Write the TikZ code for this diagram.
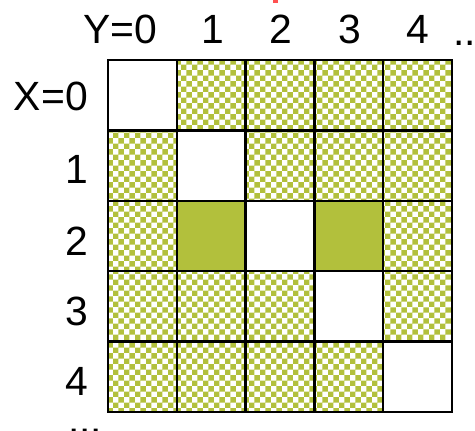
\documentclass[tikz,border=0pt]{standalone}
\usepackage{fontspec}
\setmainfont{Liberation Sans}
\usetikzlibrary{patterns}
\definecolor{olivegreen}{HTML}{B2C03C}
\definecolor{markred}{HTML}{FF5050}
\tikzset{
  cellbox/.style={draw=black, line width=2.5bp, minimum width=68.8bp, minimum height=70.4bp, inner sep=0pt, outer sep=0pt, anchor=north west},
  hatched/.style={cellbox, pattern=checkerboard, pattern color=olivegreen},
  solidcell/.style={cellbox, fill=olivegreen},
  emptycell/.style={cellbox, fill=white},
  lbl/.style={font=\fontsize{41}{48}\selectfont, inner sep=0pt}
}
\begin{document}
\begin{tikzpicture}[x=1bp, y=-1bp]
\useasboundingbox (0,0) rectangle (475,430);
\begin{scope}
\clip (0,0) rectangle (475,430);
% cells
\foreach \i in {0,...,4}{
  \foreach \j in {0,...,4}{
    \pgfmathsetmacro{\xx}{108+68.8*\j}
    \pgfmathsetmacro{\yy}{60+70.4*\i}
    \ifnum\i=\j
      \node[emptycell] (c-\i-\j) at (\xx,\yy) {};
    \else
      \ifnum\i=2
        \ifodd\j
          \node[solidcell] (c-\i-\j) at (\xx,\yy) {};
        \else
          \node[hatched] (c-\i-\j) at (\xx,\yy) {};
        \fi
      \else
        \node[hatched] (c-\i-\j) at (\xx,\yy) {};
      \fi
    \fi
  }
}
% column labels
\node[lbl, anchor=base] (ylab0) at (120,43) {Y=0};
\node[lbl, anchor=base] (ylab1) at (213,43) {1};
\node[lbl, anchor=base] (ylab2) at (281,43) {2};
\node[lbl, anchor=base] (ylab3) at (349.5,43) {3};
\node[lbl, anchor=base] (ylab4) at (418,43) {4};
\node[lbl, anchor=base west] (ydots) at (453,45) {...};
% row labels
\node[lbl, anchor=base east] (xlab0) at (88,110) {X=0};
\node[lbl, anchor=base east] (xlab1) at (88,183) {1};
\node[lbl, anchor=base east] (xlab2) at (88,255) {2};
\node[lbl, anchor=base east] (xlab3) at (88,325) {3};
\node[lbl, anchor=base east] (xlab4) at (88,395) {4};
\node[lbl, anchor=base west] (xdots) at (68,433) {...};
% red mark
\fill[markred] (273,0) rectangle (278,3);
\end{scope}
\end{tikzpicture}
\end{document}
